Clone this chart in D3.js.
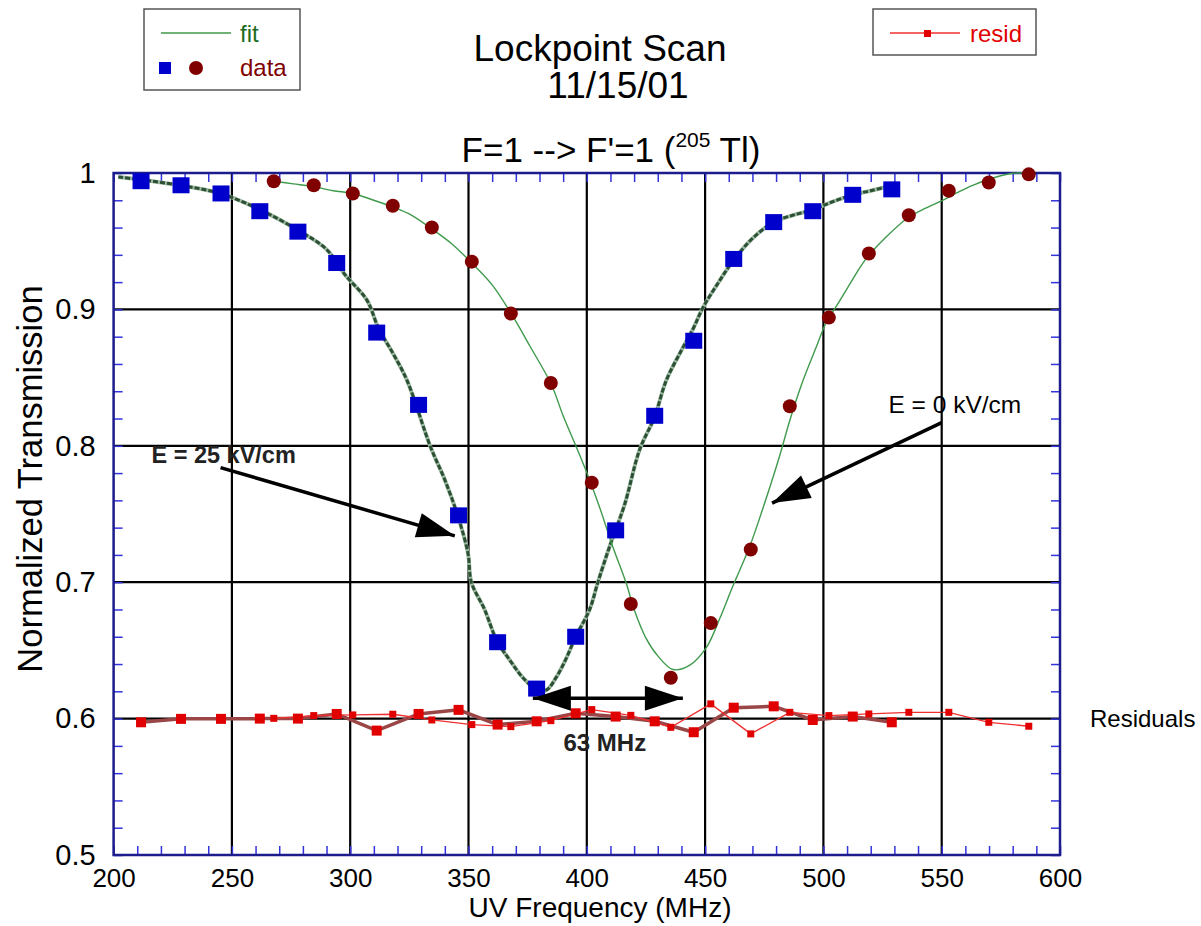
<!DOCTYPE html>
<html>
<head>
<meta charset="utf-8">
<script src="https://cdn.jsdelivr.net/npm/d3@7"></script>
<style>
body { margin: 0; background: #fff; }
text { font-family: "Liberation Sans", Arial, Helvetica, sans-serif; }
</style>
</head>
<body>
<script>
// E = 25 kV/cm data (blue squares)
var blueFreq = [211.6, 228.5, 245.4, 261.8, 277.9, 294.3, 311.2, 328.9, 345.8, 362.3, 378.8, 395.3, 412.2, 428.7, 445.2, 462.1, 479.0, 495.5, 512.4, 528.9];
var blueTrans = [0.994, 0.991, 0.985, 0.972, 0.957, 0.934, 0.883, 0.830, 0.749, 0.656, 0.622, 0.660, 0.738, 0.822, 0.877, 0.937, 0.964, 0.972, 0.984, 0.988];
var blueResid = [-0.0027, -0.0002, -0.0002, 0.0, 0.0, 0.0034, -0.0088, 0.0034, 0.0064, -0.0044, -0.002, 0.0039, 0.0015, -0.002, -0.010, 0.008, 0.009, -0.001, 0.0015, -0.0027];

// E = 0 kV/cm data (red circles)
var redFreq = [267.7, 284.6, 301.1, 318.0, 334.5, 351.4, 367.9, 384.8, 402.1, 418.6, 435.5, 452.4, 469.3, 485.8, 502.3, 519.2, 536.1, 553.0, 569.9, 586.8];
var redTrans = [0.994, 0.991, 0.985, 0.976, 0.960, 0.935, 0.897, 0.846, 0.773, 0.684, 0.630, 0.670, 0.724, 0.829, 0.894, 0.941, 0.969, 0.987, 0.993, 0.999];
var redResid = [0.0002, 0.0022, 0.0027, 0.0032, -0.001, -0.0044, -0.0059, -0.0015, 0.0066, 0.0024, -0.0064, 0.0108, -0.0112, 0.0046, 0.0022, 0.0034, 0.0046, 0.0046, -0.0027, -0.0056];

var residOffset = 0.6;

// fit curves
var blueFitFreq = [202, 212, 228, 245, 262, 278, 290, 298, 307, 312, 318, 324, 334, 340, 345.6, 349.8, 351.2, 356.8, 362, 367.4, 373, 379, 383, 387, 391, 395.3, 401.2, 404.7, 409.6, 416, 422.3, 428.6, 433.6, 440, 445, 449, 455, 462, 470, 479, 487, 495.5, 504, 512.4, 520, 529.3];
var blueFitTrans = [0.997, 0.995, 0.991, 0.985, 0.973, 0.958, 0.944, 0.925, 0.907, 0.886, 0.868, 0.848, 0.799, 0.775, 0.748, 0.721, 0.700, 0.680, 0.657, 0.643, 0.630, 0.621, 0.621, 0.630, 0.643, 0.660, 0.680, 0.700, 0.726, 0.757, 0.797, 0.821, 0.848, 0.870, 0.886, 0.901, 0.918, 0.936, 0.952, 0.964, 0.969, 0.973, 0.979, 0.984, 0.987, 0.991];
var redFitFreq = [267.7, 276, 284.3, 292.8, 301.2, 310, 318.1, 326, 334.5, 343, 351.4, 360, 368, 376, 385, 390, 395.6, 401.2, 405.4, 411, 416.7, 420.2, 425, 430, 436.4, 443.4, 450.5, 456.1, 461.7, 468.8, 474.4, 481.4, 485.7, 491, 496.9, 501.1, 506.8, 512, 518, 526.5, 535.6, 543, 550.4, 557, 563.1, 571, 580, 588];
var redFitTrans = [0.994, 0.992, 0.990, 0.987, 0.985, 0.980, 0.975, 0.969, 0.959, 0.948, 0.934, 0.918, 0.897, 0.873, 0.845, 0.822, 0.799, 0.775, 0.755, 0.726, 0.699, 0.679, 0.659, 0.646, 0.636, 0.639, 0.652, 0.673, 0.697, 0.726, 0.754, 0.792, 0.818, 0.846, 0.872, 0.890, 0.906, 0.921, 0.937, 0.953, 0.967, 0.974, 0.980, 0.986, 0.991, 0.996, 0.9998, 1.0];

var xTicks = [200, 250, 300, 350, 400, 450, 500, 550, 600];
var yTicks = [0.5, 0.6, 0.7, 0.8, 0.9, 1];

// annotations in data units
var arrow25 = [[245.2, 0.784], [344.2, 0.734]];
var arrow0 = [[550, 0.817], [478.3, 0.758]];
var arrowSplit = [[377.2, 0.6149], [440.6, 0.6149]];

var width = 1201, height = 926;
var svg = d3.select("body").append("svg").attr("width", width).attr("height", height);
svg.append("rect").attr("width", width).attr("height", height).attr("fill", "#fff");

var x = d3.scaleLinear().domain([200, 600]).range([113.6, 1060]);
var y = d3.scaleLinear().domain([0.5, 1]).range([855, 173]);

// grid
svg.append("g").selectAll("line").data(xTicks.slice(1, -1)).enter().append("line")
	.attr("x1", function(d) { return x(d); }).attr("x2", function(d) { return x(d); })
	.attr("y1", y(1)).attr("y2", y(0.5))
	.attr("stroke", "#000").attr("stroke-width", 2.2);
svg.append("g").selectAll("line").data(yTicks.slice(1, -1)).enter().append("line")
	.attr("y1", function(d) { return y(d); }).attr("y2", function(d) { return y(d); })
	.attr("x1", x(200)).attr("x2", x(600))
	.attr("stroke", "#000").attr("stroke-width", 2.2);

// minor ticks on all four sides
var minorX = d3.range(200, 601, 10), minorY = d3.range(0.5, 1.001, 0.02);
function minor(g) { g.select(".domain").remove(); g.selectAll("line").attr("stroke", "#3333dd").attr("stroke-width", 1.5); }
svg.append("g").attr("transform", "translate(0," + y(0.5) + ")").call(d3.axisTop(x).tickValues(minorX).tickSize(9).tickFormat("")).call(minor);
svg.append("g").attr("transform", "translate(0," + y(1) + ")").call(d3.axisBottom(x).tickValues(minorX).tickSize(9).tickFormat("")).call(minor);
svg.append("g").attr("transform", "translate(" + x(200) + ",0)").call(d3.axisRight(y).tickValues(minorY).tickSize(9).tickFormat("")).call(minor);
svg.append("g").attr("transform", "translate(" + x(600) + ",0)").call(d3.axisLeft(y).tickValues(minorY).tickSize(9).tickFormat("")).call(minor);

// frame
svg.append("rect").attr("x", x(200)).attr("y", y(1)).attr("width", x(600) - x(200)).attr("height", y(0.5) - y(1))
	.attr("fill", "none").attr("stroke", "#1c1c8c").attr("stroke-width", 2.5);

// tick labels
var xAxis = svg.append("g").attr("transform", "translate(0," + y(0.5) + ")")
	.call(d3.axisBottom(x).tickValues(xTicks).tickSize(0).tickPadding(14).tickFormat(d3.format("d")));
xAxis.select(".domain").remove();
xAxis.selectAll("text").style("font-size", "26px").attr("fill", "#000");
var yAxis = svg.append("g").attr("transform", "translate(" + x(200) + ",0)")
	.call(d3.axisLeft(y).tickValues(yTicks).tickSize(0).tickPadding(18).tickFormat(d3.format("~g")));
yAxis.select(".domain").remove();
yAxis.selectAll("text").style("font-size", "29px").attr("fill", "#000");

// axis titles
svg.append("text").attr("x", 600).attr("y", 917).attr("text-anchor", "middle").style("font-size", "28px").text("UV Frequency (MHz)");
svg.append("text").attr("transform", "translate(42,479) rotate(-90)").attr("text-anchor", "middle").style("font-size", "34.5px").text("Normalized Transmission");

// titles
svg.append("text").attr("x", 600).attr("y", 61).attr("text-anchor", "middle").style("font-size", "37px").text("Lockpoint Scan");
svg.append("text").attr("x", 618).attr("y", 98).attr("text-anchor", "middle").style("font-size", "37px").text("11/15/01");
var sub = svg.append("text").attr("x", 611).attr("y", 162).attr("text-anchor", "middle").style("font-size", "35px");
sub.append("tspan").text("F=1 --> F'=1 (");
sub.append("tspan").attr("dy", -15).style("font-size", "21px").text("205");
sub.append("tspan").attr("dy", 15).text(" Tl)");

// fits
var line = d3.line().curve(d3.curveCatmullRom.alpha(0.5))
	.x(function(d) { return x(d[0]); }).y(function(d) { return y(d[1]); });
var blueFit = d3.zip(blueFitFreq, blueFitTrans);
svg.append("path").attr("d", line(blueFit)).attr("fill", "none").attr("stroke", "#9fbaa4").attr("stroke-width", 4);
svg.append("path").attr("d", line(blueFit)).attr("fill", "none").attr("stroke", "#2c5034").attr("stroke-width", 3).attr("stroke-dasharray", "5,2");
svg.append("path").attr("d", line(d3.zip(redFitFreq, redFitTrans))).attr("fill", "none").attr("stroke", "#3f9a4c").attr("stroke-width", 1.4);

// residuals
var rline = d3.line().x(function(d) { return x(d[0]); }).y(function(d) { return y(residOffset + d[1]); });
var blueRes = d3.zip(blueFreq, blueResid), redRes = d3.zip(redFreq, redResid);
svg.append("path").attr("d", rline(blueRes)).attr("fill", "none").attr("stroke", "#9a4646").attr("stroke-width", 3.5);
svg.append("path").attr("d", rline(redRes)).attr("fill", "none").attr("stroke", "#f03030").attr("stroke-width", 1.3);
svg.append("g").selectAll("rect").data(blueRes).enter().append("rect")
	.attr("x", function(d) { return x(d[0]) - 5; }).attr("y", function(d) { return y(residOffset + d[1]) - 5; })
	.attr("width", 10).attr("height", 10).attr("fill", "#e00000");
svg.append("g").selectAll("rect").data(redRes).enter().append("rect")
	.attr("x", function(d) { return x(d[0]) - 3.5; }).attr("y", function(d) { return y(residOffset + d[1]) - 3.5; })
	.attr("width", 7).attr("height", 7).attr("fill", "#e00000");

// data points
svg.append("g").selectAll("circle").data(d3.zip(redFreq, redTrans)).enter().append("circle")
	.attr("cx", function(d) { return x(d[0]); }).attr("cy", function(d) { return y(d[1]); })
	.attr("r", 7).attr("fill", "#800000");
svg.append("g").selectAll("rect").data(d3.zip(blueFreq, blueTrans)).enter().append("rect")
	.attr("x", function(d) { return x(d[0]) - 8.5; }).attr("y", function(d) { return y(d[1]) - 8; })
	.attr("width", 17).attr("height", 16).attr("fill", "#0000cc");

// arrows
function arrowHead(p0, p1, len, half) {
	var dx = p1[0] - p0[0], dy = p1[1] - p0[1], l = Math.sqrt(dx * dx + dy * dy);
	var ux = dx / l, uy = dy / l;
	var bx = p1[0] - ux * len, by = p1[1] - uy * len;
	return [[p1[0], p1[1]], [bx - uy * half, by + ux * half], [bx + uy * half, by - ux * half]];
}
function drawArrow(a, both) {
	var p0 = [x(a[0][0]), y(a[0][1])], p1 = [x(a[1][0]), y(a[1][1])];
	svg.append("line").attr("x1", p0[0]).attr("y1", p0[1]).attr("x2", p1[0]).attr("y2", p1[1])
		.attr("stroke", "#000").attr("stroke-width", 3.5);
	svg.append("polygon").attr("points", arrowHead(p0, p1, 38, 12.5).join(" ")).attr("fill", "#000");
	if (both) svg.append("polygon").attr("points", arrowHead(p1, p0, 38, 12.5).join(" ")).attr("fill", "#000");
}
drawArrow(arrow25, false);
drawArrow(arrow0, false);
drawArrow(arrowSplit, true);

svg.append("text").attr("x", x(216)).attr("y", y(0.7876)).style("font-size", "23.5px").style("font-weight", "bold").attr("fill", "#222").text("E = 25 kV/cm");
svg.append("text").attr("x", x(527.5)).attr("y", y(0.824)).style("font-size", "24.5px").text("E = 0 kV/cm");
svg.append("text").attr("x", x(407.6)).attr("y", y(0.5762)).attr("text-anchor", "middle").style("font-size", "24px").style("font-weight", "bold").attr("fill", "#222").text("63 MHz");
svg.append("text").attr("x", 1090).attr("y", 727).style("font-size", "24px").text("Residuals");

// legend: fit / data
var leg1 = svg.append("g");
leg1.append("rect").attr("x", 144).attr("y", 9).attr("width", 156).attr("height", 81).attr("fill", "#fff").attr("stroke", "#555").attr("stroke-width", 1.5);
leg1.append("line").attr("x1", 161).attr("x2", 231).attr("y1", 33).attr("y2", 33).attr("stroke", "#3f9a4c").attr("stroke-width", 1.5);
leg1.append("text").attr("x", 240).attr("y", 42).style("font-size", "24px").attr("fill", "#1e6b1e").text("fit");
leg1.append("rect").attr("x", 159).attr("y", 62).attr("width", 12).attr("height", 12).attr("fill", "#0000cc");
leg1.append("circle").attr("cx", 196).attr("cy", 68).attr("r", 7).attr("fill", "#800000");
leg1.append("text").attr("x", 240).attr("y", 76).style("font-size", "24px").attr("fill", "#800000").text("data");

// legend: resid
var leg2 = svg.append("g");
leg2.append("rect").attr("x", 873).attr("y", 9).attr("width", 163).attr("height", 46).attr("fill", "#fff").attr("stroke", "#555").attr("stroke-width", 1.5);
leg2.append("line").attr("x1", 890).attr("x2", 960).attr("y1", 33).attr("y2", 33).attr("stroke", "#f03030").attr("stroke-width", 1.3);
leg2.append("rect").attr("x", 924).attr("y", 30).attr("width", 7).attr("height", 7).attr("fill", "#e00000");
leg2.append("text").attr("x", 970).attr("y", 42).style("font-size", "24px").attr("fill", "#e00000").text("resid");
</script>
</body>
</html>
